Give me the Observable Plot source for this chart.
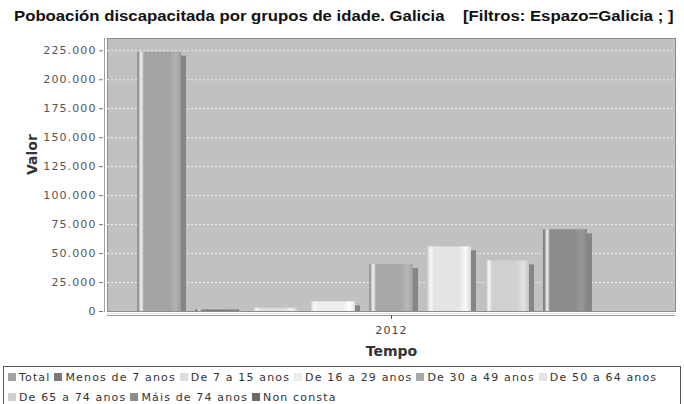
<!DOCTYPE html>
<html><head><meta charset="utf-8">
<script src="https://cdn.jsdelivr.net/npm/d3@7"></script>
<script src="https://cdn.jsdelivr.net/npm/@observablehq/plot@0.6"></script>
<style>
html,body{margin:0;padding:0;background:#fff;}
body{width:684px;height:404px;overflow:hidden;position:relative;font-family:"DejaVu Sans",sans-serif;}
#title{position:absolute;left:14px;top:8px;font:bold 14px "Liberation Sans",Arial,sans-serif;color:#111;white-space:pre;transform:scaleX(1.195);transform-origin:0 0;}
#chart{position:absolute;left:0;top:30px;}
#legend{position:absolute;left:3px;top:366px;width:678px;height:40px;border:1px solid #555;box-sizing:border-box;padding:1px 0 0 4px;font:11px "DejaVu Sans",sans-serif;letter-spacing:1.15px;color:#333;line-height:20px;}
#legend span.item{white-space:nowrap;margin-right:4px;}
#legend i{display:inline-block;width:8px;height:8px;margin-right:3px;vertical-align:0px;}
</style>
</head><body>
<div id="title"></div>
<div id="chart"></div>
<div id="legend"></div>
<script>
const titleText = "Poboación discapacitada por grupos de idade. Galicia    [Filtros: Espazo=Galicia ; ]";
const categories = ["2012"];
const series = ["Total","Menos de 7 anos","De 7 a 15 anos","De 16 a 29 anos","De 30 a 49 anos","De 50 a 64 anos","De 65 a 74 anos","Máis de 74 anos","Non consta"];
const values2012 = [223800, 1300, 2800, 8400, 40500, 55800, 43700, 70500, 0];
const seriesColors = ["#a3a3a3","#7a7a7a","#dcdcdc","#ececec","#a8a8a8","#e4e4e4","#d0d0d0","#8c8c8c","#6a6a6a"];
const yTicks = [0,25000,50000,75000,100000,125000,150000,175000,200000,225000];
const yLabel = "Valor";
const xLabel = "Tempo";

document.getElementById("title").textContent = titleText;

const data = series.map((s, i) => ({year: categories[0], series: s, value: values2012[i]}));
const fmt = d3.formatLocale({decimal: ",", thousands: ".", grouping: [3], currency: ["", ""]}).format(",d");
const gradIds = series.map((s, i) => `url(#grad${i})`);

const chart = Plot.plot({
  width: 684,
  height: 332,
  marginLeft: 107,
  marginRight: 9,
  marginTop: 8,
  marginBottom: 51,
  style: {fontFamily: "DejaVu Sans", fontSize: "11px", letterSpacing: "1.1px", color: "#555", background: "transparent"},
  fx: {domain: categories, padding: 0, label: null},
  x: {domain: series, paddingInner: 0.245, paddingOuter: 0.49, axis: null},
  y: {domain: [0, 235600], axis: null},
  color: {type: "ordinal", domain: series, range: gradIds, legend: false},
  marks: [
    Plot.frame({fill: "#c1c1c1", stroke: "#8c8c8c"}),
    Plot.frame({anchor: "left", dx: -3, stroke: "#a0a0a0"}),
    Plot.gridY(yTicks.slice(1), {stroke: "#f2f2f2", strokeOpacity: 0.95, strokeDasharray: "2,2"}),
    Plot.barY(data, {fx: "year", x: "series", y: "value", fill: "#858585", dx: 5, insetTop: 4, filter: d => d.value > 0}),
    Plot.barY(data, {fx: "year", x: "series", y: "value", fill: "series", filter: d => d.value > 0}),
    Plot.ruleY([0], {stroke: "#e6e6e6", dy: 2}),
    Plot.ruleY([0], {stroke: "#9a9a9a", dy: 4, strokeWidth: 1.2}),
    Plot.axisY(yTicks, {tickSize: 4, dx: -4, tickPadding: 3, tickFormat: fmt, label: null, stroke: "#777", fill: "#555"}),
    Plot.axisFx({anchor: "bottom", tickSize: 4, tickPadding: 7, label: null, dy: 4, fill: "#444"}),
    Plot.text([yLabel], {frameAnchor: "left", rotate: -90, dx: -75, fontWeight: "bold", fontSize: 14, fill: "#333"}),
    Plot.text([xLabel], {frameAnchor: "bottom", dy: 44, fontWeight: "bold", fontSize: 14, fill: "#333"})
  ]
});

const svg = chart.tagName.toLowerCase() === "svg" ? chart : chart.querySelector("svg");
// axis titles: no extra letter spacing
d3.select(svg).selectAll('g[aria-label="text"]').style("letter-spacing", "0px");
// cylinder-like gradients
const defs = d3.select(svg).insert("defs", ":first-child");
seriesColors.forEach((c, i) => {
  const base = d3.color(c);
  const g = defs.append("linearGradient").attr("id", `grad${i}`).attr("x1", "0").attr("x2", "1").attr("y1", "0").attr("y2", "0");
  const stops = [
    [0, base.darker(0.4)],
    [0.04, base],
    [0.09, d3.color("#f8f8f8")],
    [0.16, base],
    [0.72, base],
    [0.88, base.brighter(0.25)],
    [1, base.darker(0.15)]
  ];
  stops.forEach(([o, col]) => g.append("stop").attr("offset", o).attr("stop-color", col.formatHex()));
});
document.getElementById("chart").appendChild(chart);

// legend
const legend = d3.select("#legend");
series.forEach((s, i) => {
  const it = legend.append("span").attr("class", "item");
  it.append("i").style("background", seriesColors[i]);
  it.append("span").text(s);
});
</script>
</body></html>
